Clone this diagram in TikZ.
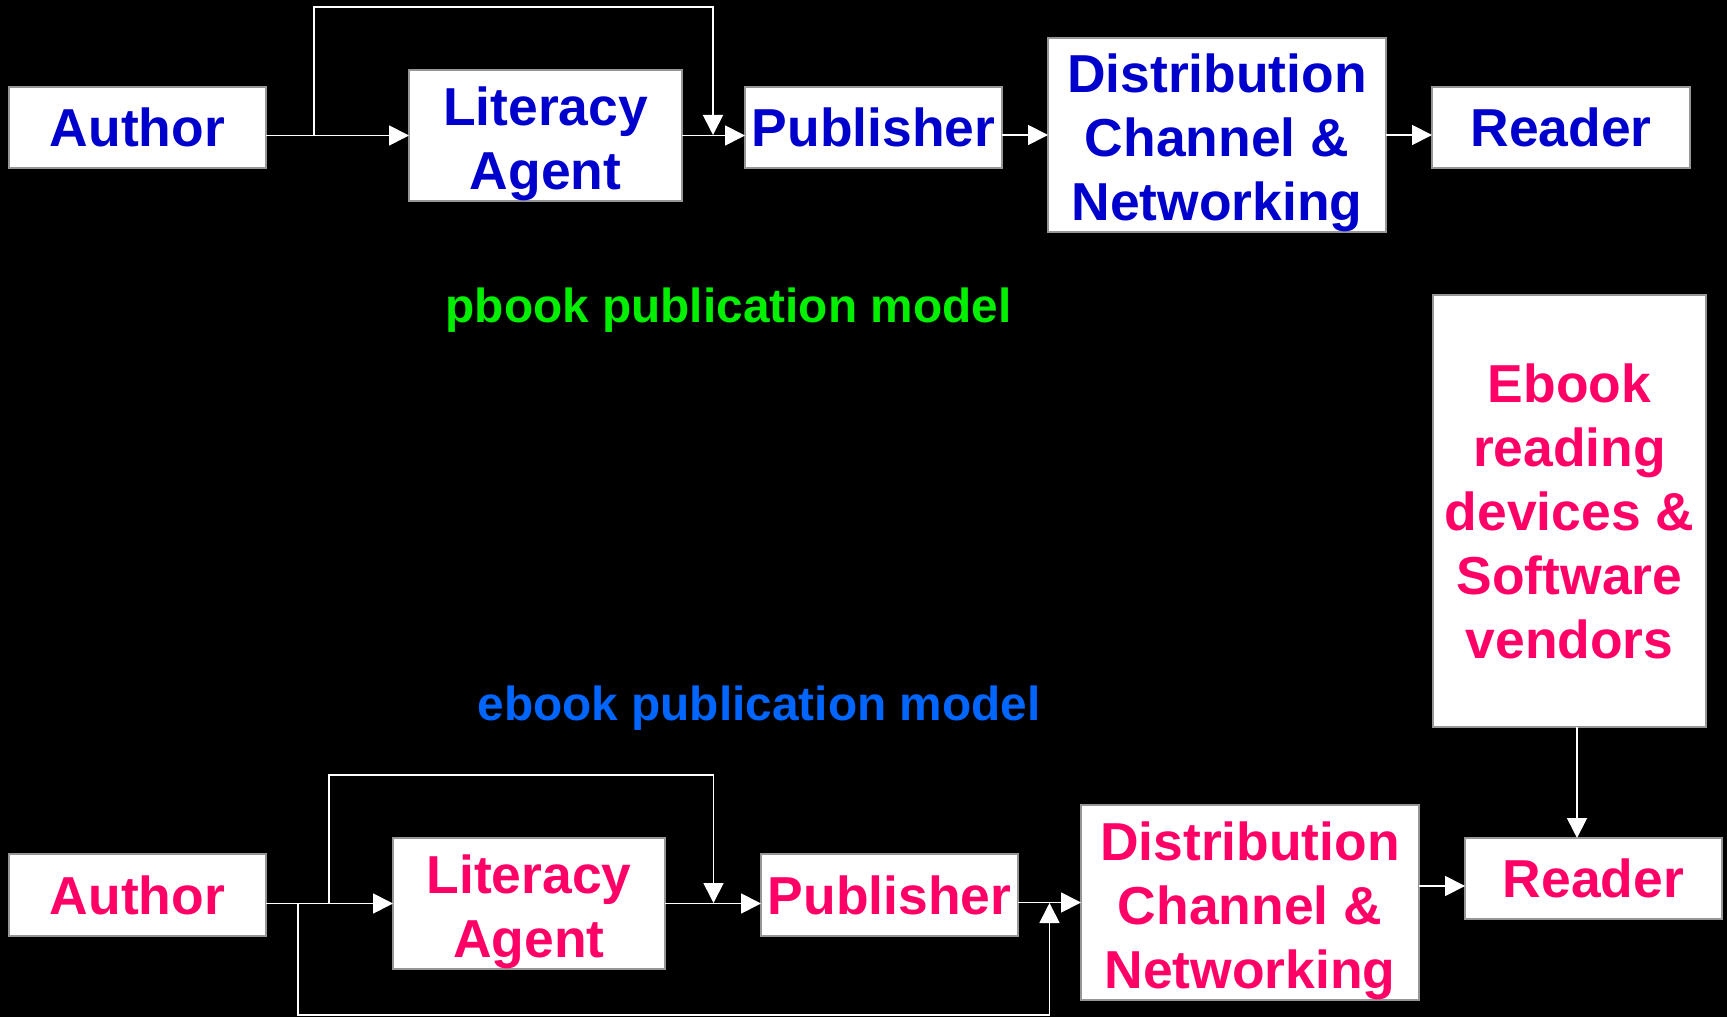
\documentclass[tikz,border=0pt]{standalone}
\usepackage{fontspec}
\setmainfont{Liberation Sans}
\usepackage{xcolor}
\usepackage{tikz}
\usetikzlibrary{positioning,calc,arrows.meta}

\definecolor{topblue}{RGB}{0,0,204}
\definecolor{botpink}{RGB}{255,0,102}
\definecolor{pgreen}{RGB}{0,240,0}
\definecolor{eblue}{RGB}{0,102,255}
\definecolor{boxgray}{RGB}{150,150,150}
\newcommand{\lowtop}{\rule{0pt}{0.55cm}}

\begin{document}
\begin{tikzpicture}[
    box/.style={draw=boxgray,fill=white,line width=0.6pt,inner sep=0pt,outer sep=0pt,
        align=center,font={\fontsize{15.2}{18.2}\selectfont\bfseries}},
    arr/.style={draw=white,line width=0.5pt,-{Triangle[length=0.2cm,width=0.2cm,fill=white]}},
    lbl/.style={font={\fontsize{13.6}{16}\selectfont\bfseries},inner sep=0pt,anchor=base}]
    \fill[black] (0,0) rectangle (17.27,-10.17);
    \useasboundingbox (0,0) rectangle (17.27,-10.17);

    % pbook model
    \node[box,text=topblue,minimum width=2.57cm,minimum height=0.81cm] (aA) at (1.375,-1.275) {Author};
    \node[box,text=topblue,minimum width=2.73cm,minimum height=1.29cm] (laA) at (5.455,-1.355) {\lowtop Literacy\\Agent};
    \node[box,text=topblue,minimum width=2.57cm,minimum height=0.81cm] (pA) at (8.735,-1.275) {Publisher};
    \node[box,text=topblue,minimum width=3.38cm,minimum height=1.94cm] (dA) at (12.17,-1.35) {\lowtop Distribution\\Channel \&\\Networking};
    \node[box,text=topblue,minimum width=2.58cm,minimum height=0.81cm] (rA) at (15.61,-1.275) {Reader};

    \draw[arr] (aA.east |- laA) -- (laA.west);
    \draw[arr] (laA.east) -- (laA.east -| pA.west);
    \draw[arr] (pA.east |- dA) -- (dA.west);
    \draw[arr] (dA.east) -- (dA.east -| rA.west);
    \coordinate (jA) at (3.14,-1.35);
    \coordinate (kA) at (7.13,-1.35);
    \draw[arr] (jA) -- ++(0,1.28) -| (kA);

    \node[lbl,text=pgreen] (tA) at (7.285,-3.23) {pbook publication model};
    \node[lbl,text=eblue] (tB) at (7.59,-7.20) {ebook publication model};

    % ebook model
    \node[box,text=botpink,minimum width=2.57cm,minimum height=0.82cm] (aB) at (1.375,-8.95) {Author};
    \node[box,text=botpink,minimum width=2.72cm,minimum height=1.29cm] (laB) at (5.29,-9.035) {\lowtop Literacy\\Agent};
    \node[box,text=botpink,minimum width=2.57cm,minimum height=0.82cm] (pB) at (8.895,-8.95) {Publisher};
    \node[box,text=botpink,minimum width=3.38cm,minimum height=1.93cm] (dB) at (12.50,-9.025) {\lowtop Distribution\\Channel \&\\Networking};
    \node[box,text=botpink,minimum width=2.57cm,minimum height=0.81cm] (rB) at (15.935,-8.785) {Reader};
    \node[box,text=botpink,minimum width=2.73cm,minimum height=4.32cm] (eB) at (15.695,-5.11) {Ebook\\reading\\devices \&\\Software\\vendors};

    \draw[arr] (aB.east |- laB) -- (laB.west);
    \draw[arr] (laB.east) -- (laB.east -| pB.west);
    \draw[arr] (pB.east |- dB) -- (dB.west);
    \draw[arr] ([yshift=0.165cm]dB.east) -- ([yshift=0.165cm]dB.east -| rB.west);
    \draw[arr] ([xshift=0.075cm]eB.south) -- ([xshift=0.075cm]eB.south |- rB.north);
    \coordinate (jB) at (3.29,-9.03);
    \coordinate (kB) at (7.135,-9.03);
    \draw[arr] (jB) -- ++(0,1.28) -| (kB);
    \coordinate (mB) at (2.98,-9.03);
    \coordinate (nB) at (10.495,-9.03);
    \draw[arr] (mB) -- ++(0,-1.12) -| (nB);
\end{tikzpicture}
\end{document}
